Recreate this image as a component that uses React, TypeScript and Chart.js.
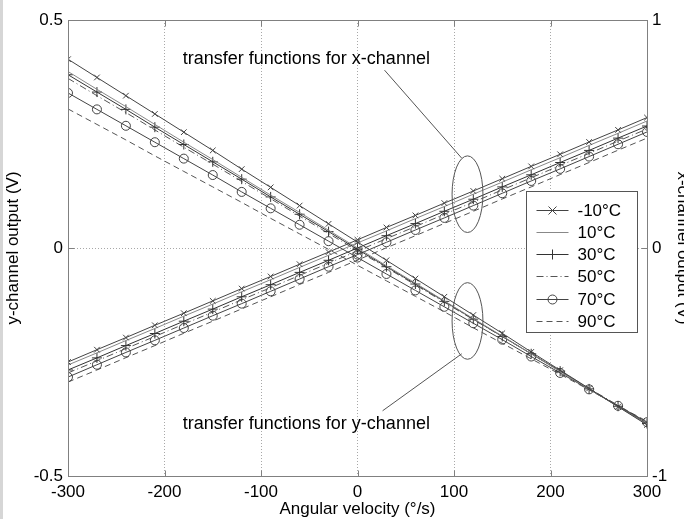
import React, { useEffect, useRef } from 'react';
import { Chart, registerables } from 'chart.js';

Chart.register(...registerables);

// ---- data ----
const angularVelocity = [-300, -270, -240, -210, -180, -150, -120, -90, -60, -30, 0, 30, 60, 90, 120, 150, 180, 210, 240, 270, 300];
const temperatureLabels = ['-10°C', '10°C', '30°C', '50°C', '70°C', '90°C'];

// y-channel output (V), left axis
const yChanM10 = [0.414, 0.374, 0.334, 0.294, 0.254, 0.214, 0.173, 0.133, 0.093, 0.053, 0.013, -0.027, -0.067, -0.107, -0.147, -0.187, -0.228, -0.268, -0.308, -0.348, -0.388];
const yChan10 = [0.387, 0.348, 0.310, 0.271, 0.232, 0.194, 0.155, 0.116, 0.078, 0.039, 0.000, -0.039, -0.077, -0.116, -0.155, -0.193, -0.232, -0.271, -0.309, -0.348, -0.386];
const yChan30 = [0.380, 0.342, 0.304, 0.265, 0.227, 0.189, 0.151, 0.112, 0.074, 0.036, -0.003, -0.041, -0.079, -0.117, -0.156, -0.194, -0.232, -0.270, -0.309, -0.347, -0.385];
const yChan50 = [0.372, 0.334, 0.297, 0.259, 0.221, 0.184, 0.146, 0.108, 0.070, 0.032, -0.006, -0.043, -0.081, -0.119, -0.157, -0.194, -0.232, -0.270, -0.308, -0.345, -0.383];
const yChan70 = [0.340, 0.304, 0.268, 0.232, 0.196, 0.160, 0.123, 0.087, 0.051, 0.015, -0.021, -0.057, -0.093, -0.129, -0.165, -0.201, -0.238, -0.274, -0.310, -0.346, -0.382];
const yChan90 = [0.305, 0.271, 0.237, 0.202, 0.168, 0.134, 0.100, 0.065, 0.031, -0.003, -0.038, -0.072, -0.106, -0.140, -0.175, -0.209, -0.243, -0.277, -0.311, -0.346, -0.380];

// x-channel output (V), right axis
const xChanM10 = [-0.500, -0.446, -0.393, -0.339, -0.286, -0.232, -0.178, -0.125, -0.071, -0.018, 0.036, 0.090, 0.143, 0.197, 0.250, 0.304, 0.358, 0.411, 0.465, 0.518, 0.572];
const xChan10 = [-0.513, -0.460, -0.406, -0.353, -0.299, -0.246, -0.192, -0.139, -0.085, -0.032, 0.022, 0.075, 0.129, 0.182, 0.236, 0.289, 0.343, 0.396, 0.450, 0.503, 0.557];
const xChan30 = [-0.535, -0.482, -0.428, -0.375, -0.321, -0.268, -0.214, -0.161, -0.107, -0.054, 0.000, 0.054, 0.107, 0.161, 0.214, 0.268, 0.321, 0.375, 0.428, 0.482, 0.535];
const xChan50 = [-0.548, -0.495, -0.441, -0.388, -0.334, -0.281, -0.227, -0.174, -0.120, -0.067, -0.013, 0.041, 0.094, 0.148, 0.201, 0.255, 0.308, 0.362, 0.415, 0.469, 0.522];
const xChan70 = [-0.566, -0.512, -0.458, -0.405, -0.351, -0.297, -0.244, -0.190, -0.136, -0.082, -0.029, 0.025, 0.079, 0.132, 0.186, 0.240, 0.294, 0.347, 0.401, 0.455, 0.509];
const xChan90 = [-0.588, -0.535, -0.481, -0.428, -0.374, -0.321, -0.267, -0.214, -0.160, -0.107, -0.053, 0.001, 0.054, 0.108, 0.161, 0.215, 0.268, 0.322, 0.375, 0.429, 0.482];

const yChannelSeries = [yChanM10, yChan10, yChan30, yChan50, yChan70, yChan90];
const xChannelSeries = [xChanM10, xChan10, xChan30, xChan50, xChan70, xChan90];

const xTicks = [-300, -200, -100, 0, 100, 200, 300];
const yLeftTicks = [-0.5, 0, 0.5];
const yRightTicks = [-1, 0, 1];

const annotationTexts = ['transfer functions for x-channel', 'transfer functions for y-channel'];

// ---- styles ----
const FONT = 'Liberation Sans, Arial, Helvetica, sans-serif';
const seriesStyles = [
  { color: '#444', dash: [] as number[], marker: 'crossRot', radius: 4 },
  { color: '#888', dash: [] as number[], marker: 'none', radius: 0 },
  { color: '#333', dash: [] as number[], marker: 'cross', radius: 5 },
  { color: '#555', dash: [7, 3, 1, 3], marker: 'none', radius: 0 },
  { color: '#444', dash: [] as number[], marker: 'circle', radius: 4.5 },
  { color: '#555', dash: [6, 4], marker: 'none', radius: 0 },
];

// annotation geometry in data coordinates (x, left-axis y)
const annotationLayout = [
  { textX: -53, textY: 0.415, ellX: 114, ellY: 0.118, ellRx: 16, ellRy: 0.084, from: [28, 0.390], to: [108, 0.197] },
  { textX: -53, textY: -0.385, ellX: 114, ellY: -0.160, ellRx: 16, ellRy: 0.084, from: [26, -0.357], to: [108, -0.232] },
];

function drawMarker(ctx: CanvasRenderingContext2D, marker: string, x: number, y: number, r: number) {
  ctx.beginPath();
  if (marker === 'crossRot') {
    ctx.moveTo(x - r, y - r); ctx.lineTo(x + r, y + r);
    ctx.moveTo(x + r, y - r); ctx.lineTo(x - r, y + r);
  } else if (marker === 'cross') {
    ctx.moveTo(x - r, y); ctx.lineTo(x + r, y);
    ctx.moveTo(x, y - r); ctx.lineTo(x, y + r);
  } else if (marker === 'circle') {
    ctx.arc(x, y, r, 0, Math.PI * 2);
  }
  ctx.stroke();
}

const framePlugin = {
  id: 'framePlugin',
  beforeDraw(chart: any) {
    const { ctx, width, height } = chart;
    ctx.save();
    ctx.fillStyle = '#ffffff';
    ctx.fillRect(0, 0, width, height);
    ctx.fillStyle = '#d6d6d6';
    ctx.fillRect(0, 0, 3, height);
    ctx.restore();
  },
  afterDatasetsDraw(chart: any) {
    const { ctx, chartArea, scales } = chart;
    const x = scales.x, y = scales.y;
    ctx.save();
    // annotations
    ctx.strokeStyle = '#555';
    ctx.lineWidth = 1;
    ctx.setLineDash([]);
    ctx.fillStyle = '#000';
    ctx.font = '18px ' + FONT;
    ctx.textAlign = 'center';
    ctx.textBaseline = 'middle';
    annotationLayout.forEach((a, i) => {
      ctx.fillText(annotationTexts[i], x.getPixelForValue(a.textX), y.getPixelForValue(a.textY));
      const cx = x.getPixelForValue(a.ellX), cy = y.getPixelForValue(a.ellY);
      const rx = Math.abs(x.getPixelForValue(a.ellX + a.ellRx) - cx);
      const ry = Math.abs(y.getPixelForValue(a.ellY + a.ellRy) - cy);
      ctx.beginPath();
      ctx.ellipse(cx, cy, rx, ry, 0, 0, Math.PI * 2);
      ctx.stroke();
      ctx.beginPath();
      ctx.moveTo(x.getPixelForValue(a.from[0]), y.getPixelForValue(a.from[1]));
      ctx.lineTo(x.getPixelForValue(a.to[0]), y.getPixelForValue(a.to[1]));
      ctx.stroke();
    });
    // frame
    ctx.strokeStyle = '#808080';
    ctx.lineWidth = 1;
    const L = Math.round(chartArea.left) + 0.5, R = Math.round(chartArea.right) + 0.5;
    const T = Math.round(chartArea.top) + 0.5, B = Math.round(chartArea.bottom) + 0.5;
    ctx.strokeRect(L, T, R - L, B - T);
    // inner ticks
    ctx.beginPath();
    xTicks.forEach((v) => {
      const px = Math.round(x.getPixelForValue(v)) + 0.5;
      ctx.moveTo(px, B); ctx.lineTo(px, B - 6);
      ctx.moveTo(px, T); ctx.lineTo(px, T + 6);
    });
    yLeftTicks.forEach((v) => {
      const py = Math.round(y.getPixelForValue(v)) + 0.5;
      ctx.moveTo(L, py); ctx.lineTo(L + 6, py);
      ctx.moveTo(R, py); ctx.lineTo(R - 6, py);
    });
    ctx.stroke();
    // legend
    const lx = 526.5, ly = 191.5, lw = 111, lh = 141;
    ctx.fillStyle = '#fff';
    ctx.fillRect(lx, ly, lw, lh);
    ctx.strokeStyle = '#555';
    ctx.strokeRect(lx, ly, lw, lh);
    ctx.textAlign = 'left';
    ctx.font = '17px ' + FONT;
    temperatureLabels.forEach((lab, i) => {
      const s = seriesStyles[i];
      const yy = Math.round(ly + 18 + i * 22.3) + 0.5;
      ctx.strokeStyle = s.color;
      ctx.setLineDash(s.dash);
      ctx.beginPath();
      ctx.moveTo(lx + 10, yy); ctx.lineTo(lx + 42, yy);
      ctx.stroke();
      ctx.setLineDash([]);
      drawMarker(ctx, s.marker, lx + 26, yy, s.radius);
      ctx.fillStyle = '#000';
      ctx.fillText(lab, lx + 51, yy + 1);
    });
    ctx.restore();
  },
};

export default function App() {
  const ref = useRef<HTMLCanvasElement | null>(null);
  useEffect(() => {
    if (!ref.current) return;
    const datasets: any[] = [];
    const addSeries = (series: number[][], axis: string, prefix: string) => {
      series.forEach((vals, i) => {
        const s = seriesStyles[i];
        datasets.push({
          label: prefix + temperatureLabels[i],
          data: angularVelocity.map((v, k) => ({ x: v, y: vals[k] })),
          yAxisID: axis,
          borderColor: s.color,
          borderWidth: 1,
          borderDash: s.dash,
          pointStyle: s.marker === 'none' ? false : s.marker,
          pointRadius: s.radius,
          pointBorderColor: s.color,
          pointBackgroundColor: 'rgba(0,0,0,0)',
          pointBorderWidth: 1,
          fill: false,
          tension: 0,
        });
      });
    };
    addSeries(yChannelSeries, 'y', 'y ');
    addSeries(xChannelSeries, 'y2', 'x ');
    const tickFont = { family: FONT, size: 17 };
    const titleFont = { family: FONT, size: 17 };
    const chart = new Chart(ref.current, {
      type: 'line',
      data: { datasets },
      plugins: [framePlugin],
      options: {
        animation: false,
        responsive: false,
        devicePixelRatio: 1,
        layout: { padding: { top: 20, left: 0, right: 0, bottom: 0 } },
        plugins: { legend: { display: false }, tooltip: { enabled: false } },
        scales: {
          x: {
            type: 'linear',
            min: -300,
            max: 300,
            afterBuildTicks: (sc: any) => { sc.ticks = xTicks.map((v) => ({ value: v })); },
            afterFit: (sc: any) => { sc.height = 43; },
            ticks: { font: tickFont, color: '#000', padding: 6, maxRotation: 0, autoSkip: false },
            grid: {
              drawTicks: false,
              color: (c: any) => (c.tick && (c.tick.value === -300 || c.tick.value === 300) ? 'rgba(0,0,0,0)' : '#a8a8a8'),
            },
            border: { display: false, dash: [1, 2] },
            title: { display: true, text: 'Angular velocity (°/s)', font: titleFont, color: '#000', padding: { top: 0, bottom: -1 } },
          },
          y: {
            type: 'linear',
            position: 'left',
            min: -0.5,
            max: 0.5,
            afterBuildTicks: (sc: any) => { sc.ticks = yLeftTicks.map((v) => ({ value: v })); },
            afterFit: (sc: any) => { sc.width = 68; },
            ticks: { font: tickFont, color: '#000', padding: 5, callback: (v: any) => String(v) },
            grid: {
              drawTicks: false,
              color: (c: any) => (c.tick && c.tick.value === 0 ? '#a8a8a8' : 'rgba(0,0,0,0)'),
            },
            border: { display: false, dash: [1, 2] },
            title: { display: true, text: 'y-channel output (V)', font: titleFont, color: '#000', padding: { top: 3, bottom: 0 } },
          },
          y2: {
            type: 'linear',
            position: 'right',
            min: -1,
            max: 1,
            afterBuildTicks: (sc: any) => { sc.ticks = yRightTicks.map((v) => ({ value: v })); },
            afterFit: (sc: any) => { sc.width = 37; },
            ticks: { font: tickFont, color: '#000', padding: 5, callback: (v: any) => String(v) },
            grid: { display: false, drawOnChartArea: false, drawTicks: false },
            border: { display: false },
            title: { display: true, text: 'x-channel output (V)', font: titleFont, color: '#000', padding: { top: -9, bottom: 0 } },
          },
        },
      } as any,
    });
    return () => chart.destroy();
  }, []);
  return (
    <div style={{ position: 'fixed', left: 0, top: 0, width: 684, height: 519, overflow: 'hidden', background: '#fff' }}>
      <canvas ref={ref} width={684} height={519} style={{ display: 'block', width: 684, height: 519 }} />
    </div>
  );
}
